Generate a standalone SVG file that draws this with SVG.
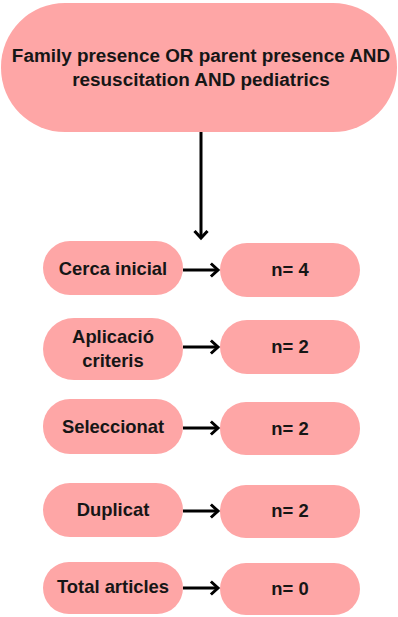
<svg xmlns="http://www.w3.org/2000/svg" width="398" height="617" viewBox="0 0 398 617">
  <style>
    .box { fill: #fea6a6; }
    .lbl { font-family: "Liberation Sans", Arial, sans-serif; font-weight: bold; fill: #161616; text-anchor: middle; }
    .big { font-size: 18.9px; }
    .mid { font-size: 18.4px; }
    .conn { stroke: #000; stroke-width: 3; fill: none; }
    .head { stroke: #000; stroke-width: 3; fill: none; stroke-linecap: square; stroke-linejoin: miter; }
  </style>

  <rect width="398" height="617" fill="#ffffff"/>

  <g id="query">
    <rect class="box" x="1" y="3" width="396" height="129" rx="64" ry="64"/>
    <text class="lbl big" x="201" y="62">Family presence OR parent presence AND</text>
    <text class="lbl big" x="201" y="86">resuscitation AND pediatrics</text>
  </g>

  <g id="step-cerca">
    <rect class="box" x="43" y="241" width="140" height="54" rx="27"/>
    <text class="lbl mid" x="113" y="275">Cerca inicial</text>
  </g>
  <g id="count-cerca">
    <rect class="box" x="220" y="243" width="140" height="54" rx="27"/>
    <text class="lbl mid" x="290" y="276">n= 4</text>
  </g>

  <g id="step-aplicacio">
    <rect class="box" x="43" y="318" width="140" height="62" rx="31"/>
    <text class="lbl mid" x="113" y="343">Aplicació</text>
    <text class="lbl mid" x="113" y="367">criteris</text>
  </g>
  <g id="count-aplicacio">
    <rect class="box" x="220" y="320" width="140" height="54" rx="27"/>
    <text class="lbl mid" x="290" y="353">n= 2</text>
  </g>

  <g id="step-seleccionat">
    <rect class="box" x="43" y="399" width="140" height="55" rx="27"/>
    <text class="lbl mid" x="113" y="433">Seleccionat</text>
  </g>
  <g id="count-seleccionat">
    <rect class="box" x="220" y="402" width="140" height="53" rx="26"/>
    <text class="lbl mid" x="290" y="435">n= 2</text>
  </g>

  <g id="step-duplicat">
    <rect class="box" x="43" y="483" width="140" height="54" rx="27"/>
    <text class="lbl mid" x="113" y="516">Duplicat</text>
  </g>
  <g id="count-duplicat">
    <rect class="box" x="220" y="485" width="140" height="53" rx="26"/>
    <text class="lbl mid" x="290" y="517">n= 2</text>
  </g>

  <g id="step-total">
    <rect class="box" x="43" y="562" width="140" height="52" rx="26"/>
    <text class="lbl mid" x="113" y="593">Total articles</text>
  </g>
  <g id="count-total">
    <rect class="box" x="220" y="563" width="140" height="52" rx="26"/>
    <text class="lbl mid" x="290" y="595">n= 0</text>
  </g>

  <g id="connectors">
    <line class="conn" x1="201" y1="132" x2="201" y2="238"/>
    <polyline class="head" points="195.5,232 201,238 206.5,232"/>

    <line class="conn" x1="183" y1="270" x2="217" y2="270"/>
    <polyline class="head" points="212,264.5 218,270 212,275.5"/>

    <line class="conn" x1="183" y1="347" x2="217" y2="347"/>
    <polyline class="head" points="212,341.5 218,347 212,352.5"/>

    <line class="conn" x1="183" y1="428" x2="217" y2="428"/>
    <polyline class="head" points="212,422.5 218,428 212,433.5"/>

    <line class="conn" x1="183" y1="511" x2="217" y2="511"/>
    <polyline class="head" points="212,505.5 218,511 212,516.5"/>

    <line class="conn" x1="183" y1="588" x2="217" y2="588"/>
    <polyline class="head" points="212,582.5 218,588 212,593.5"/>
  </g>
</svg>
